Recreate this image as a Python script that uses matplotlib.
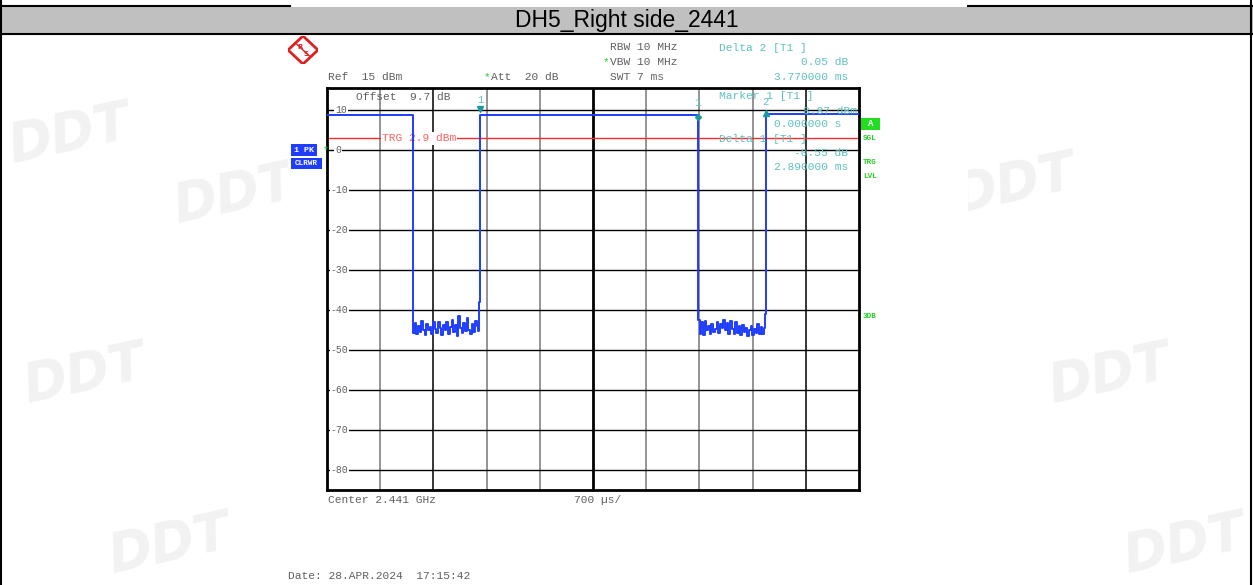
import numpy as np
import matplotlib
matplotlib.use("Agg")
import matplotlib.pyplot as plt
from matplotlib.patches import Rectangle

W, H = 1253.0, 585.0

# ---- data (time in ms, level in dBm) ----
title = "DH5_Right side_2441"
sweep_ms = 7.0
ref_level = 15.5
bottom_level = -85
ytick_vals = [10, 0, -10, -20, -30, -40, -50, -60, -70, -80]
trg_level = 2.9

high_level_1 = 8.80
high_level_2 = 8.87
high_level_3 = 8.92
fall_1_ms = 1.13
rise_1_ms = 2.012
fall_2_ms = 4.88
rise_2_ms = 5.772
pre_rise_1 = -38.0
pre_rise_2 = -41.0

noise_1 = [-45.8, -43.2, -46.1, -44.0, -45.5, -42.8, -44.9, -46.3, -43.6, -45.0,
           -44.2, -46.0, -43.1, -44.8, -45.7, -42.9, -44.4, -46.2, -43.8, -45.1,
           -43.0, -45.9, -44.3, -42.6, -45.4, -43.7, -46.4, -41.6, -44.6, -45.8,
           -43.3, -45.2, -42.1, -44.9, -46.0, -43.5, -45.6, -42.7, -44.1, -45.3]
noise_2 = [-42.5, -45.9, -43.0, -46.2, -42.8, -45.1, -43.9, -46.0, -43.4, -45.6,
           -44.7, -42.9, -45.8, -43.6, -44.5, -42.4, -45.0, -43.2, -45.9, -42.7,
           -44.8, -46.1, -43.1, -45.7, -44.0, -46.3, -43.8, -45.5, -44.4, -46.6,
           -45.0, -43.9, -46.2, -44.8, -45.7, -43.5, -45.9, -44.2, -46.0, -44.6]

# markers: (time, level) of the symbol
mk1 = (2.012, 10.3)
d1 = (4.88, 8.3)
d2 = (5.772, 9.2)

GRAY = "#606060"
TEAL = "#5fc0c0"
BLUE = "#1f3dff"
RED = "#ff2a2a"
GREEN = "#22dd22"
MONO = ["Liberation Mono", "DejaVu Sans Mono"]


def fx(x):
    return x / W


def fy(y):
    return 1 - y / H


fig = plt.figure(figsize=(W / 100, H / 100), dpi=100)
fig.patch.set_facecolor("white")


def ftext(x, y, s, **kw):
    kw.setdefault("family", MONO)
    kw.setdefault("fontsize", 8.1)
    kw.setdefault("color", GRAY)
    kw.setdefault("va", "center")
    return fig.text(fx(x), fy(y), s, **kw)


def fbox(x0, y0, x1, y1, color, zorder=1):
    fig.add_artist(Rectangle((fx(x0), fy(y1)), (x1 - x0) / W, (y1 - y0) / H,
                             transform=fig.transFigure, facecolor=color,
                             edgecolor="none", zorder=zorder))


def fline(xs, ys, **kw):
    fig.add_artist(plt.Line2D([fx(v) for v in xs], [fy(v) for v in ys],
                              transform=fig.transFigure, **kw))


# faint watermarks, hidden behind the white screen shot area
for (wx, wy) in [(70, 135), (235, 195), (1015, 185), (85, 375), (1110, 375),
                 (170, 545), (1185, 545)]:
    ftext(wx, wy, "DDT", family="DejaVu Sans", fontsize=38, weight="bold",
          style="italic", color="#f2f2f2", ha="center", rotation=12, zorder=0)
fbox(288, 36, 968, H, "white", zorder=0.5)

# title bar and page frame
fbox(0, 7, W, 34, "#c0c0c0")
fline([0, 290], [6, 6], color="black", lw=1.5)
fline([968, W], [6, 6], color="black", lw=1.5)
fline([0, W], [34, 34], color="black", lw=1.5)
fline([1, 1], [0, H], color="black", lw=1.5)
fline([W - 2, W - 2], [0, H], color="black", lw=1.5)
ftext(627, 21, title, family=["Liberation Sans Narrow", "Liberation Sans"],
      fontsize=16.5, color="black", ha="center")

# R&S logo
lax = fig.add_axes([fx(288), fy(64), 30 / W, 28 / H])
lax.set_zorder(2)
lax.set_xlim(-1, 1)
lax.set_ylim(-1, 1)
lax.axis("off")
lax.plot([0, 1, 0, -1, 0], [1, 0, -1, 0, 1], color="#e02020", lw=2)
lax.plot([-0.5, 0.5], [0.5, -0.5], color="#e02020", lw=1)
lax.text(-0.2, 0.2, "R", color="#e02020", fontsize=5, ha="center", va="center", weight="bold")
lax.text(0.2, -0.25, "S", color="#e02020", fontsize=5, ha="center", va="center", weight="bold")

# ---- main display ----
ax = fig.add_axes([fx(327), fy(490), (859 - 327) / W, (490 - 88) / H])
ax.set_zorder(2)
ax.set_xlim(0, sweep_ms)
ax.set_ylim(bottom_level, ref_level)
ax.set_xticks([])
ax.set_yticks([])
for sp in ax.spines.values():
    sp.set_linewidth(2)
    sp.set_color("black")

vcols = ["#777777", "#000000", "#777777", "#777777", "#000000",
         "#777777", "#777777", "#777777", "#000000"]
for i in range(1, 10):
    ax.axvline(i * sweep_ms / 10, color=vcols[i - 1], lw=2 if i == 5 else 1.1, zorder=1)
for v in ytick_vals:
    ax.axhline(v, color="black", lw=1, zorder=1)
    ax.text(0.105 if v >= 0 else 0.05, v, str(v), family=MONO, fontsize=7, color=GRAY,
            ha="left", va="center", zorder=2,
            bbox=dict(facecolor="white", edgecolor="none", pad=0.6))

ax.axhline(trg_level, color=RED, lw=1, zorder=2)
ax.text(0.72, trg_level, "TRG 2.9 dBm", family=MONO, fontsize=8.1, color="#ff6060",
        ha="left", va="center", zorder=3,
        bbox=dict(facecolor="white", edgecolor="none", pad=0.8))

# trace
t1 = np.linspace(fall_1_ms, rise_1_ms - 0.02, len(noise_1))
t2 = np.linspace(fall_2_ms, rise_2_ms - 0.02, len(noise_2))
t = np.concatenate([[0.0], t1, [rise_1_ms - 0.007, rise_1_ms], t2,
                    [rise_2_ms - 0.007, rise_2_ms, sweep_ms]])
lv = np.concatenate([[high_level_1], noise_1, [pre_rise_1, high_level_2], noise_2,
                     [pre_rise_2, high_level_3, high_level_3]])
ax.plot(t, lv, color=BLUE, lw=1.4, drawstyle="steps-post", zorder=4)

ax.plot(*mk1, marker="v", color="#1a9a9a", ms=5, zorder=5)
ax.plot(*d1, marker="D", color="#1a9a9a", ms=3, zorder=5)
ax.plot(*d2, marker="^", color="#1a9a9a", ms=5, zorder=5)
ax.text(mk1[0], 12.6, "1", family=MONO, fontsize=7.5, color=TEAL, ha="center", va="center")
ax.text(d1[0], 11.7, "1", family=MONO, fontsize=7.5, color=TEAL, ha="center", va="center")
ax.text(d2[0], 11.9, "2", family=MONO, fontsize=7.5, color=TEAL, ha="center", va="center")

# header annotations
ftext(610, 47, "RBW 10 MHz")
ftext(603, 62, "*", color="#22cc22")
ftext(610, 62, "VBW 10 MHz")
ftext(610, 77, "SWT 7 ms")
ftext(328, 77, "Ref  15 dBm")
ftext(484, 77, "*", color="#22cc22")
ftext(491, 77, "Att  20 dB")
ftext(719, 48, "Delta 2 [T1 ]", color=TEAL)
ftext(848, 62, "0.05 dB", color=TEAL, ha="right")
ftext(848, 77, "3.770000 ms", color=TEAL, ha="right")

ftext(356, 97, "Offset  9.7 dB")
ftext(719, 96, "Marker 1 [T1 ]", color=TEAL)
ftext(857, 111, "8.87 dBm", color=TEAL, ha="right")
ftext(774, 124, "0.000000 s", color=TEAL)
ftext(719, 139, "Delta 1 [T1 ]", color=TEAL)
ftext(848, 153, "-0.55 dB", color=TEAL, ha="right")
ftext(774, 167, "2.890000 ms", color=TEAL)

# left status boxes
fbox(291, 144, 317, 156, "#1f3dff")
ftext(304, 150, "1 PK", color="white", fontsize=6, weight="bold", ha="center")
ftext(323, 150, "*", color="#22cc22", fontsize=7)
fbox(291, 158, 322, 169, "#1f3dff")
ftext(306.5, 163.5, "CLRWR", color="white", fontsize=5.5, weight="bold", ha="center")

# right status labels
fbox(861, 118, 880, 130, GREEN)
ftext(871, 124, "A", color="white", fontsize=6.5, weight="bold", ha="center")
for (yy, s) in [(138, "SGL"), (163, "TRG"), (176, "LVL"), (316, "3DB")]:
    ftext(863, yy, s, color="#22cc22", fontsize=5.5, weight="bold")

# footer
ftext(328, 500, "Center 2.441 GHz")
ftext(574, 500, "700 \u00b5s/")
ftext(288, 576, "Date: 28.APR.2024  17:15:42")

fig.savefig("out.png", dpi=100)
